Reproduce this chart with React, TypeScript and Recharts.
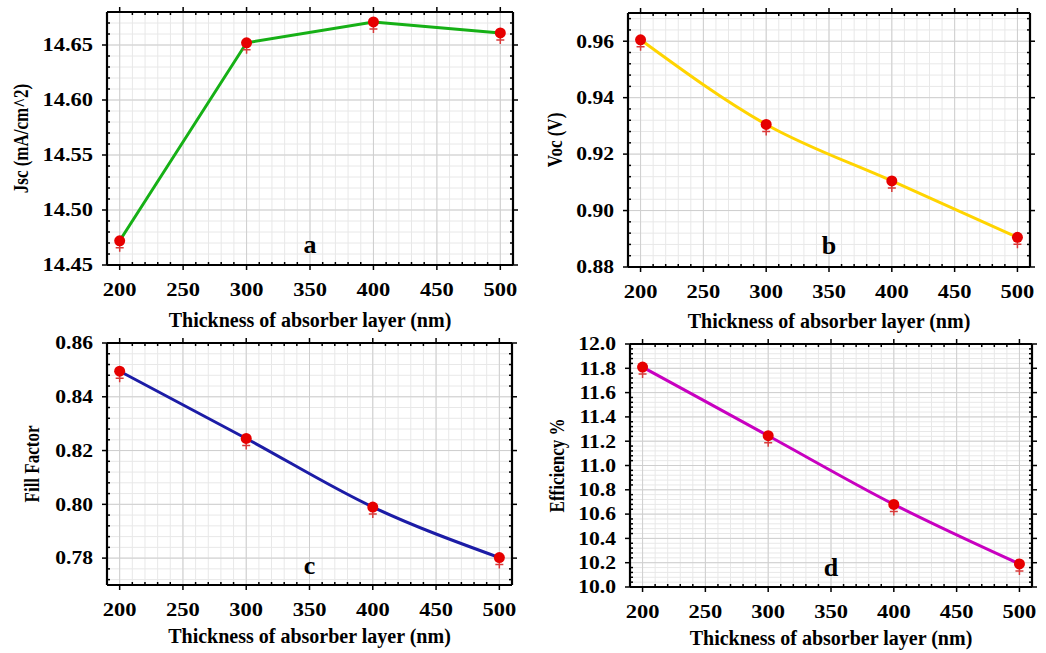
import React from 'react';
import { LineChart, Line, XAxis, YAxis, CartesianGrid, ReferenceLine, ReferenceDot } from 'recharts';

// absorber thickness (nm)
const thickness = [200, 300, 400, 500];

// device parameters vs thickness
const jsc = [14.472, 14.652, 14.671, 14.661];
const voc = [0.9605, 0.9305, 0.9105, 0.8905];
const fillFactor = [0.8495, 0.8245, 0.799, 0.7802];
const efficiency = [11.81, 11.245, 10.68, 10.19];

// tick labels
const xTicks = [200, 250, 300, 350, 400, 450, 500];
const jscTicks = [14.45, 14.5, 14.55, 14.6, 14.65];
const vocTicks = [0.88, 0.9, 0.92, 0.94, 0.96];
const ffTicks = [0.78, 0.8, 0.82, 0.84, 0.86];
const effTicks = [10.0, 10.2, 10.4, 10.6, 10.8, 11.0, 11.2, 11.4, 11.6, 11.8, 12.0];

const FONT = '"Liberation Serif", "Times New Roman", serif';

// minor tick positions inside [lo, hi], lined up with the first major tick
const minorTicks = (anchor: number, lo: number, hi: number, step: number) => {
  const out: number[] = [];
  const from = Math.ceil((lo - anchor) / step - 1e-6);
  const to = Math.floor((hi - anchor) / step + 1e-6);
  for (let i = from; i <= to; i++) out.push(+(anchor + i * step).toFixed(5));
  return out;
};

const isMajor = (v: number, majors: number[]) => majors.some((m) => Math.abs(m - v) < 1e-6);

const xMinor = minorTicks(200, 190, 510, 10);

type PanelProps = {
  left: number;
  top: number;
  width: number;
  height: number;
  margin: { top: number; right: number; bottom: number; left: number };
  yAxisWidth: number;
  values: number[];
  color: string;
  curve: 'linear' | 'monotone';
  yDomain: [number, number];
  yMajor: number[];
  yMinorStep: number;
  digits: number;
  yTickScale: number;
  yLabel: string;
  yLabelX: number;
  xLabelGap: number;
  letter: string;
  letterY: number;
};

function Panel(p: PanelProps) {
  const data = thickness.map((t, i) => ({ t, v: p.values[i] }));
  const yMinor = minorTicks(p.yMajor[0], p.yDomain[0], p.yDomain[1], p.yMinorStep);
  const plotLeft = p.margin.left + p.yAxisWidth;
  const plotRight = p.width - p.margin.right - 8;
  const plotTop = p.margin.top + 6;
  const plotBottom = p.height - p.margin.bottom - 40;
  const axisLine = { stroke: '#000', strokeWidth: 2.2 };

  const renderDot = (d: any) => (
    <g key={`dot-${d.index}`}>
      <path
        d={`M${d.cx - 4},${d.cy + 7}h8M${d.cx},${d.cy + 3}v8`}
        stroke="#d83a3a"
        strokeWidth={1.5}
      />
      <circle cx={d.cx} cy={d.cy} r={5.5} fill="#e60000" />
    </g>
  );

  const bottomTick = (t: any) => {
    const major = isMajor(t.payload.value, xTicks);
    return (
      <g key={`bt-${t.index}`}>
        <line x1={t.x} x2={t.x} y1={major ? t.y : t.y - 3} y2={major ? t.y + 5 : t.y} stroke="#000" strokeWidth={1.5} />
        {major && (
          <text
            transform={`translate(${t.x},${t.y + 31}) scale(1.25,1)`}
            textAnchor="middle"
            fontFamily={FONT}
            fontWeight="bold"
            fontSize={18}
            fill="#000"
          >
            {t.payload.value}
          </text>
        )}
      </g>
    );
  };

  const topTick = (t: any) => {
    const major = isMajor(t.payload.value, xTicks);
    return (
      <line
        key={`tt-${t.index}`}
        x1={t.x}
        x2={t.x}
        y1={major ? t.y - 5 : t.y}
        y2={major ? t.y : t.y + 3}
        stroke="#000"
        strokeWidth={1.5}
      />
    );
  };

  const leftTick = (t: any) => {
    const major = isMajor(t.payload.value, p.yMajor);
    return (
      <g key={`lt-${t.index}`}>
        <line x1={major ? t.x - 5 : t.x} x2={major ? t.x : t.x + 3} y1={t.y} y2={t.y} stroke="#000" strokeWidth={1.5} />
        {major && (
          <text
            transform={`translate(${t.x - 14},${t.y}) scale(${p.yTickScale},1)`}
            dy="0.35em"
            textAnchor="end"
            fontFamily={FONT}
            fontWeight="bold"
            fontSize={18}
            fill="#000"
          >
            {Number(t.payload.value).toFixed(p.digits)}
          </text>
        )}
      </g>
    );
  };

  const rightTick = (t: any) => {
    const major = isMajor(t.payload.value, p.yMajor);
    return (
      <line
        key={`rt-${t.index}`}
        x1={major ? t.x : t.x - 3}
        x2={major ? t.x + 5 : t.x}
        y1={t.y}
        y2={t.y}
        stroke="#000"
        strokeWidth={1.5}
      />
    );
  };

  return (
    <div style={{ position: 'absolute', left: p.left, top: p.top, width: p.width, height: p.height }}>
      <LineChart width={p.width} height={p.height} data={data} margin={p.margin}>
        <CartesianGrid xAxisId="b" yAxisId="l" stroke="#e8e8e8" strokeWidth={1} />
        {xTicks.map((v) => (
          <ReferenceLine key={`gx-${v}`} xAxisId="b" yAxisId="l" x={v} stroke="#cfcfcf" strokeWidth={1} />
        ))}
        {p.yMajor.map((v) => (
          <ReferenceLine key={`gy-${v}`} xAxisId="b" yAxisId="l" y={v} stroke="#cfcfcf" strokeWidth={1} />
        ))}
        <XAxis
          xAxisId="b"
          dataKey="t"
          type="number"
          domain={[190, 510]}
          allowDataOverflow
          ticks={xMinor}
          interval={0}
          tickSize={0}
          tickMargin={0}
          height={40}
          axisLine={axisLine}
          tickLine={false}
          tick={bottomTick}
        />
        <XAxis
          xAxisId="t"
          orientation="top"
          dataKey="t"
          type="number"
          domain={[190, 510]}
          allowDataOverflow
          ticks={xMinor}
          interval={0}
          tickSize={0}
          tickMargin={0}
          height={6}
          axisLine={axisLine}
          tickLine={false}
          tick={topTick}
        />
        <YAxis
          yAxisId="l"
          type="number"
          domain={p.yDomain}
          allowDataOverflow
          ticks={yMinor}
          interval={0}
          tickSize={0}
          tickMargin={0}
          width={p.yAxisWidth}
          axisLine={axisLine}
          tickLine={false}
          tick={leftTick}
        />
        <YAxis
          yAxisId="r"
          orientation="right"
          type="number"
          domain={p.yDomain}
          allowDataOverflow
          ticks={yMinor}
          interval={0}
          tickSize={0}
          tickMargin={0}
          width={8}
          axisLine={axisLine}
          tickLine={false}
          tick={rightTick}
        />
        <ReferenceDot
          xAxisId="b"
          yAxisId="l"
          x={350}
          y={p.letterY}
          r={0}
          stroke="none"
          label={{ value: p.letter, position: 'center', fontFamily: FONT, fontWeight: 'bold', fontSize: 26, fill: '#000' }}
        />
        <Line
          xAxisId="b"
          yAxisId="l"
          dataKey="v"
          type={p.curve}
          stroke={p.color}
          strokeWidth={3}
          dot={renderDot}
          activeDot={false}
          isAnimationActive={false}
        />
      </LineChart>
      <svg
        width={p.width}
        height={p.height}
        style={{ position: 'absolute', left: 0, top: 0, pointerEvents: 'none', overflow: 'visible' }}
      >
        <text
          x={(plotLeft + plotRight) / 2}
          y={plotBottom + p.xLabelGap}
          textAnchor="middle"
          fontFamily={FONT}
          fontWeight="bold"
          fontSize={20}
          fill="#000"
        >
          Thickness of absorber layer (nm)
        </text>
        <text
          transform={`translate(${p.yLabelX},${(plotTop + plotBottom) / 2}) rotate(-90) scale(1,1.25)`}
          dy="0.35em"
          textAnchor="middle"
          fontFamily={FONT}
          fontWeight="bold"
          fontSize={17}
          fill="#000"
        >
          {p.yLabel}
        </text>
      </svg>
    </div>
  );
}

export default function App() {
  return (
    <div style={{ position: 'absolute', left: 0, top: 0, width: 1046, height: 653, background: '#fff' }}>
      <Panel
        left={0}
        top={320}
        width={523}
        height={333}
        margin={{ top: 17, right: 3, bottom: 28, left: 0 }}
        yAxisWidth={107}
        values={fillFactor}
        color="#1c1ca6"
        curve="monotone"
        yDomain={[0.77, 0.86]}
        yMajor={ffTicks}
        yMinorStep={0.004}
        digits={2}
        yTickScale={1.2}
        yLabel="Fill Factor"
        yLabelX={32}
        xLabelGap={58}
        letter="c"
        letterY={0.7777}
      />
      <Panel
        left={523}
        top={320}
        width={523}
        height={333}
        margin={{ top: 18, right: 6, bottom: 26, left: 0 }}
        yAxisWidth={107}
        values={efficiency}
        color="#c800c0"
        curve="monotone"
        yDomain={[10, 12]}
        yMajor={effTicks}
        yMinorStep={0.04}
        digits={1}
        yTickScale={1.2}
        yLabel="Efficiency %"
        yLabelX={34}
        xLabelGap={58}
        letter="d"
        letterY={10.17}
      />
      <Panel
        left={0}
        top={0}
        width={523}
        height={320}
        margin={{ top: 6, right: 2, bottom: 15, left: 0 }}
        yAxisWidth={107}
        values={jsc}
        color="#16b016"
        curve="linear"
        yDomain={[14.45, 14.68]}
        yMajor={jscTicks}
        yMinorStep={0.01}
        digits={2}
        yTickScale={1.25}
        yLabel="Jsc (mA/cm^2)"
        yLabelX={21}
        xLabelGap={62}
        letter="a"
        letterY={14.469}
      />
      <Panel
        left={523}
        top={0}
        width={523}
        height={320}
        margin={{ top: 7, right: 8, bottom: 13, left: 0 }}
        yAxisWidth={105}
        values={voc}
        color="#ffd400"
        curve="monotone"
        yDomain={[0.88, 0.97]}
        yMajor={vocTicks}
        yMinorStep={0.004}
        digits={2}
        yTickScale={1.2}
        yLabel="Voc (V)"
        yLabelX={32}
        xLabelGap={61}
        letter="b"
        letterY={0.888}
      />
    </div>
  );
}
